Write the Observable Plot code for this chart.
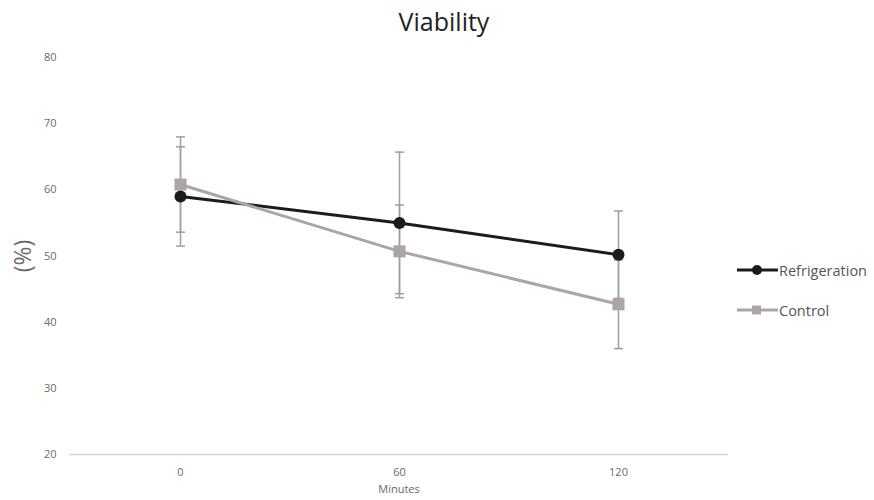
<!DOCTYPE html>
<html>
<head>
<meta charset="utf-8">
<script src="https://cdn.jsdelivr.net/npm/d3@7"></script>
<script src="https://cdn.jsdelivr.net/npm/@observablehq/plot@0.6"></script>
<style>
  html, body { margin: 0; padding: 0; background: #fff; }
  #wrap { position: relative; width: 874px; height: 500px; font-family: "Open Sans", sans-serif; }
  #title { height: 44px; text-align: center; font-size: 25px; color: #222; line-height: 42px; padding-left: 14px; }
  #legend { position: absolute; left: 736px; top: 250px; font-size: 14.5px; color: #555; }
  .item { display: flex; align-items: center; height: 40px; }
  .item svg { margin-right: 0px; }
</style>
</head>
<body>
<div id="wrap">
  <div id="title">Viability</div>
  <div id="chart"></div>
  <div id="legend"></div>
</div>
<script>
const minutes = ["0", "60", "120"];
const seriesNames = ["Refrigeration", "Control"];
const refrigeration = [59.0, 55.0, 50.2];
const refrigerationErr = [7.5, 10.7, 6.6];
const control = [60.8, 50.7, 42.7];
const controlErr = [7.2, 7.0, 6.7];
const yTicks = [20, 30, 40, 50, 60, 70, 80];

const colors = { Refrigeration: "#1c1c1c", Control: "#aba6a4" };
const symbols = { Refrigeration: "circle", Control: "square" };
const errColor = "#a39d9b";

const rows = [];
minutes.forEach((m, i) => {
  rows.push({ minute: m, series: "Refrigeration", value: refrigeration[i], err: refrigerationErr[i] });
  rows.push({ minute: m, series: "Control", value: control[i], err: controlErr[i] });
});

const cap = { draw(ctx) { ctx.moveTo(-4.5, 0); ctx.lineTo(4.5, 0); } };

const marks = [
  Plot.ruleY([20], { stroke: "#d9d4d2", strokeWidth: 1.5 }),
  Plot.ruleX(rows, { x: "minute", y1: d => d.value - d.err, y2: d => d.value + d.err, stroke: errColor, strokeWidth: 1.5 }),
  Plot.dot(rows, { x: "minute", y: d => d.value + d.err, symbol: cap, stroke: errColor, strokeWidth: 1.5, fill: "none" }),
  Plot.dot(rows, { x: "minute", y: d => d.value - d.err, symbol: cap, stroke: errColor, strokeWidth: 1.5, fill: "none" })
];
seriesNames.forEach(s => {
  const data = rows.filter(d => d.series === s);
  marks.push(Plot.line(data, { x: "minute", y: "value", stroke: colors[s], strokeWidth: 3 }));
});
seriesNames.forEach(s => {
  const data = rows.filter(d => d.series === s);
  marks.push(Plot.dot(data, { x: "minute", y: "value", symbol: symbols[s], fill: colors[s], stroke: "none", r: s === "Control" ? 6.8 : 6 }));
});
marks.push(
  Plot.axisY({ ticks: yTicks, tickSize: 0, tickPadding: 13, label: null, fontSize: 11, color: "#6d6767" }),
  Plot.axisX({ tickSize: 0, tickPadding: 14, label: null, fontSize: 11, color: "#6d6767" }),
  Plot.text(["(%)"], { frameAnchor: "left", textAnchor: "middle", dx: -46, rotate: -90, fontSize: 23, fill: "#6d6767" }),
  Plot.text(["Minutes"], { frameAnchor: "bottom", dy: 38, fontSize: 11, fill: "#6d6767" })
);

const chart = Plot.plot({
  width: 874,
  height: 456,
  marginLeft: 69,
  marginRight: 146,
  marginTop: 13,
  marginBottom: 46,
  style: { fontFamily: "Open Sans, sans-serif", background: "#fff" },
  x: { type: "point", domain: minutes, padding: 0.5 },
  y: { domain: [20, 80] },
  marks
});
document.getElementById("chart").appendChild(chart);

const legend = d3.select("#legend");
seriesNames.forEach(s => {
  const it = legend.append("div").attr("class", "item");
  const sv = it.append("svg").attr("width", 43).attr("height", 14);
  sv.append("line").attr("x1", 1).attr("x2", 42).attr("y1", 7).attr("y2", 7).attr("stroke", colors[s]).attr("stroke-width", 3);
  if (s === "Control") {
    sv.append("rect").attr("x", 16).attr("y", 2.5).attr("width", 9).attr("height", 9).attr("fill", colors[s]);
  } else {
    sv.append("circle").attr("cx", 21).attr("cy", 7).attr("r", 5).attr("fill", colors[s]);
  }
  it.append("span").text(s);
});
</script>
</body>
</html>
